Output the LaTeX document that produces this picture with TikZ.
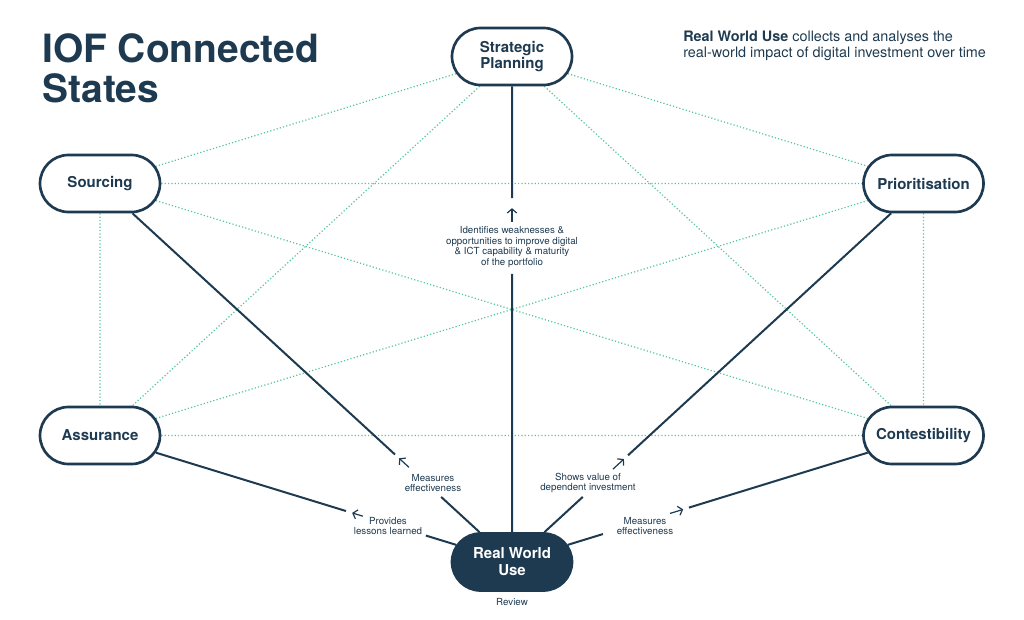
\documentclass[tikz,border=0pt]{standalone}
\usepackage{fontspec}
\setmainfont{TeX Gyre Heros}
\usetikzlibrary{shapes.misc,arrows.meta,calc}
\pgfdeclarelayer{background}
\pgfsetlayers{background,main}
\definecolor{navy}{HTML}{1E3A50}
\definecolor{mint}{HTML}{52C4A0}
\begin{document}
\begin{tikzpicture}[x=0.75pt,y=-0.75pt,
  state/.style={rounded rectangle, draw=navy, line width=2pt, fill=white,
    minimum width=90pt, minimum height=42.75pt, inner sep=0pt,
    font=\fontsize{11.25}{12.6}\selectfont\bfseries, text=navy, align=center},
  hub/.style={state, fill=navy, text=white},
  link/.style={mint, line width=0.9pt, dash pattern=on 0.9pt off 1.6pt},
  conn/.style={navy, line width=1.5pt},
  tip/.style={navy, line width=0.9pt, -{Straight Barb[length=3pt,width=7pt]}},
  lbl/.style={text=navy, font=\fontsize{7.3}{7.9}\selectfont, align=center, inner sep=0pt},
  title/.style={anchor=base west, inner sep=0pt, text=navy, font=\fontsize{29.2}{30}\selectfont\bfseries},
  note/.style={anchor=base west, inner sep=0pt, text=navy, font=\fontsize{10.8}{12}\selectfont}
]
\useasboundingbox (0,0) rectangle (1024,620);

% title and note
\node[title] (t1) at (42,63) {IOF Connected};
\node[title] (t2) at (42,103) {States};
\node[note] (n1) at (683,42) {\textbf{Real World Use} collects and analyses the};
\node[note] (n2) at (683,57.5) {real-world impact of digital investment over time};

% states
\node[state] (sp)  at (512,56.5)    {Strategic\\Planning};
\node[state] (src) at (100,183.5)   {Sourcing};
\node[state] (pri) at (923.5,183.5) {Prioritisation};
\node[state] (asr) at (100,435.5)   {Assurance};
\node[state] (con) at (923.5,435.5) {Contestibility};
\node[hub]   (rwu) at (512,562)     {Real World\\Use};
\node[lbl]   (rev) at (512,602)     {Review};

% dotted links between outer states
\begin{pgfonlayer}{background}
\foreach \a/\b in {sp/src, sp/pri, sp/asr, sp/con, src/pri, src/asr, src/con, asr/pri, asr/con, pri/con}
  \draw[link] (\a) -- (\b);
\end{pgfonlayer}

% Real World Use -> Strategic Planning
\node[lbl] (l1) at (512,247) {Identifies weaknesses \&\\opportunities to improve digital\\\& ICT capability \& maturity\\of the portfolio};
\coordinate (a1) at ($(rwu)!0.570!(sp)$);
\coordinate (b1) at ($(rwu)!0.673!(sp)$);
\coordinate (c1) at ($(rwu)!0.700!(sp)$);
\coordinate (d1) at ($(rwu)!0.720!(sp)$);
\draw[conn] (rwu) -- (a1);
\draw[tip] (b1) -- (c1);
\draw[conn] (d1) -- (sp);

% Real World Use -> Sourcing
\node[lbl] (l2) at (433,483) {Measures\\effectiveness};
\coordinate (a2) at ($(rwu)!0.172!(src)$);
\coordinate (b2) at ($(rwu)!0.250!(src)$);
\coordinate (c2) at ($(rwu)!0.274!(src)$);
\coordinate (d2) at ($(rwu)!0.284!(src)$);
\draw[conn] (rwu) -- (a2);
\draw[tip] (b2) -- (c2);
\draw[conn] (d2) -- (src);

% Real World Use -> Prioritisation
\node[lbl] (l3) at (588,483) {Shows value of\\dependent investment};
\coordinate (a3) at ($(rwu)!0.172!(pri)$);
\coordinate (b3) at ($(rwu)!0.245!(pri)$);
\coordinate (c3) at ($(rwu)!0.272!(pri)$);
\coordinate (d3) at ($(rwu)!0.282!(pri)$);
\draw[conn] (rwu) -- (a3);
\draw[tip] (b3) -- (c3);
\draw[conn] (d3) -- (pri);

% Real World Use -> Assurance
\node[lbl] (l4) at (388,526) {Provides\\lessons learned};
\coordinate (a4) at ($(rwu)!0.209!(asr)$);
\coordinate (b4) at ($(rwu)!0.362!(asr)$);
\coordinate (c4) at ($(rwu)!0.388!(asr)$);
\coordinate (d4) at ($(rwu)!0.403!(asr)$);
\draw[conn] (rwu) -- (a4);
\draw[tip] (b4) -- (c4);
\draw[conn] (d4) -- (asr);

% Real World Use -> Contestibility
\node[lbl] (l5) at (645,526) {Measures\\effectiveness};
\coordinate (a5) at ($(rwu)!0.221!(con)$);
\coordinate (b5) at ($(rwu)!0.384!(con)$);
\coordinate (c5) at ($(rwu)!0.416!(con)$);
\coordinate (d5) at ($(rwu)!0.430!(con)$);
\draw[conn] (rwu) -- (a5);
\draw[tip] (b5) -- (c5);
\draw[conn] (d5) -- (con);
\end{tikzpicture}
\end{document}
